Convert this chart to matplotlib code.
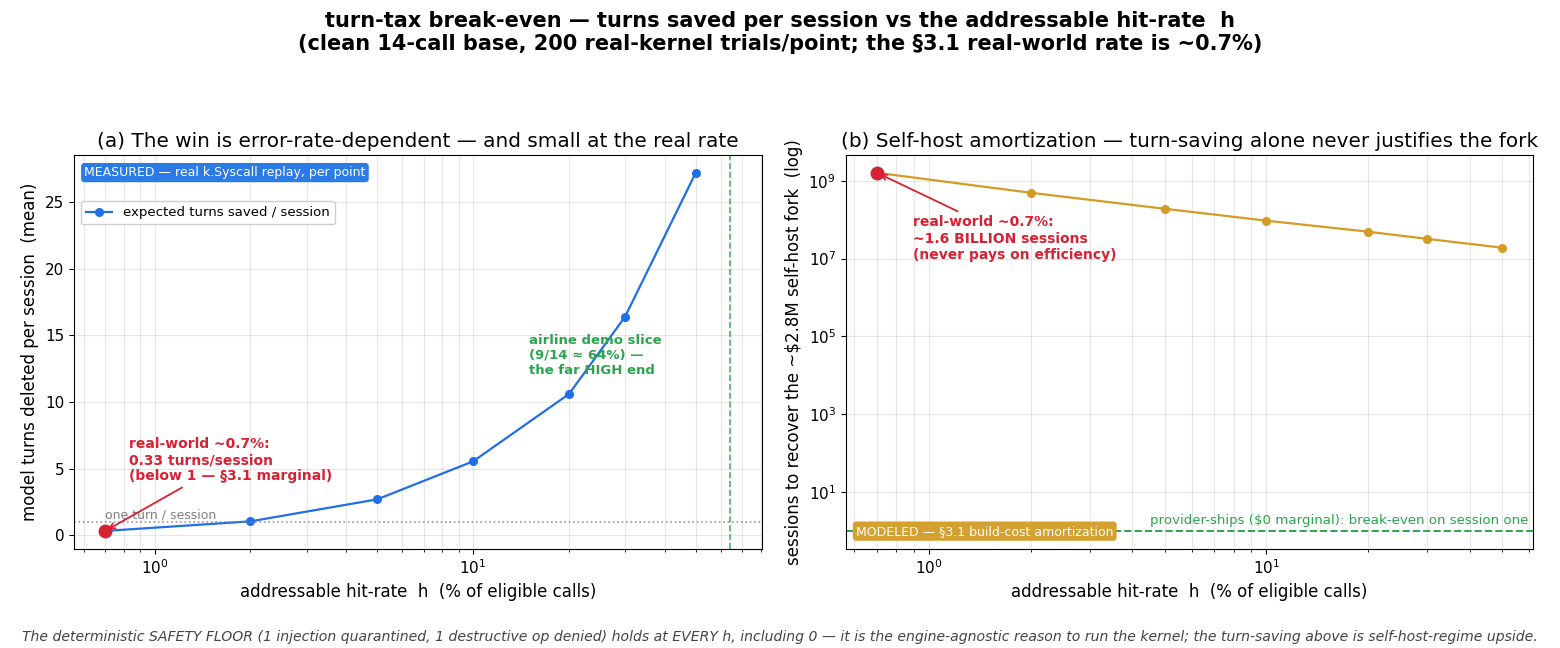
import numpy as np
import matplotlib
matplotlib.use('Agg')
import matplotlib.pyplot as plt

# addressable hit-rate h (% of eligible calls)
H_PCT = [0.7, 2, 5, 10, 20, 30, 50]
# panel (a): measured expected turns saved per session
TURNS_SAVED = [0.33, 1.05, 2.7, 5.55, 10.6, 16.4, 27.2]
# panel (b): sessions needed to recover the self-host fork cost
SESSIONS = [1.6e9, 4.9e8, 1.9e8, 9.4e7, 4.9e7, 3.2e7, 1.9e7]

REAL_H = 0.7
AIRLINE_H = 9 / 14 * 100
ONE_TURN = 1.0
PROVIDER_BREAKEVEN = 1.0

BLUE = '#1f6fe6'
RED = '#d62232'
ORANGE = '#d69a27'
GREEN = '#2ca44e'

plt.rcParams['xtick.labelsize'] = 11
plt.rcParams['ytick.labelsize'] = 11

fig, (ax1, ax2) = plt.subplots(1, 2, figsize=(15.6, 6.48), dpi=100)
fig.subplots_adjust(left=0.0474, right=0.983, bottom=0.153, top=0.761, wspace=0.122)

# ---- (a) measured turns saved ----
ax1.plot(H_PCT, TURNS_SAVED, '-o', color=BLUE, linewidth=1.6, markersize=5.5,
         label='expected turns saved / session')
ax1.plot([H_PCT[0]], [TURNS_SAVED[0]], 'o', color=RED, markersize=9, zorder=5)
ax1.axhline(ONE_TURN, color='gray', linestyle=':', linewidth=1.2, alpha=0.8)
ax1.axvline(AIRLINE_H, color=GREEN, linestyle='--', linewidth=1.2, alpha=0.85)
ax1.set_xscale('log')
ax1.text(0.70, 1.05, 'one turn / session', fontsize=9, color='gray',
         ha='left', va='bottom')
ax1.annotate('real-world ~0.7%:\n0.33 turns/session\n(below 1 \u2014 \u00a73.1 marginal)',
             xy=(H_PCT[0], TURNS_SAVED[0]), xytext=(0.83, 3.9),
             fontsize=10, fontweight='bold', color=RED, ha='left', va='bottom',
             arrowprops=dict(arrowstyle='->', color=RED, lw=1.3))
ax1.text(15.0, 11.9, 'airline demo slice\n(9/14 \u2248 64%) \u2014\nthe far HIGH end',
         fontsize=9.5, fontweight='bold', color=GREEN, ha='left', va='bottom')
ax1.text(0.015, 0.955, 'MEASURED \u2014 real k.Syscall replay, per point',
         transform=ax1.transAxes, fontsize=9, color='white', ha='left', va='center',
         bbox=dict(boxstyle='round,pad=0.25', facecolor='#2b7be6', edgecolor='none'))
ax1.legend(loc='upper left', bbox_to_anchor=(0.0, 0.9), fontsize=9.5, framealpha=0.95)
ax1.set_xlabel('addressable hit-rate  h  (% of eligible calls)', fontsize=12)
ax1.set_ylabel('model turns deleted per session  (mean)', fontsize=12)
ax1.set_title('(a) The win is error-rate-dependent \u2014 and small at the real rate', fontsize=14.4)
ax1.grid(True, which='both', alpha=0.3)

# ---- (b) self-host amortization ----
ax2.plot(H_PCT, SESSIONS, '-o', color=ORANGE, linewidth=1.6, markersize=5.5)
ax2.plot([H_PCT[0]], [SESSIONS[0]], 'o', color=RED, markersize=9, zorder=5)
ax2.axhline(PROVIDER_BREAKEVEN, color=GREEN, linestyle='--', linewidth=1.4)
ax2.set_xscale('log')
ax2.set_yscale('log')
ax2.annotate('real-world ~0.7%:\n~1.6 BILLION sessions\n(never pays on efficiency)',
             xy=(H_PCT[0], SESSIONS[0]), xytext=(0.895, 8.3e6),
             fontsize=10, fontweight='bold', color=RED, ha='left', va='bottom',
             arrowprops=dict(arrowstyle='->', color=RED, lw=1.3))
ax2.text(0.993, 1.25, r'provider-ships (\$0 marginal): break-even on session one',
         transform=ax2.get_yaxis_transform(), fontsize=9.6, color=GREEN,
         ha='right', va='bottom')
ax2.text(0.015, 0.045, 'MODELED \u2014 \u00a73.1 build-cost amortization',
         transform=ax2.transAxes, fontsize=9, color='white', ha='left', va='center',
         bbox=dict(boxstyle='round,pad=0.25', facecolor='#d4a030', edgecolor='none'))
ax2.set_xlabel('addressable hit-rate  h  (% of eligible calls)', fontsize=12)
ax2.set_ylabel(r'sessions to recover the ~\$2.8M self-host fork  (log)', fontsize=12)
ax2.set_title('(b) Self-host amortization \u2014 turn-saving alone never justifies the fork',
              fontsize=14.4)
ax2.grid(True, which='both', alpha=0.3)

fig.suptitle('turn-tax break-even \u2014 turns saved per session vs the addressable hit-rate  h\n'
             '(clean 14-call base, 200 real-kernel trials/point; the \u00a73.1 real-world rate is ~0.7%)',
             fontsize=15, fontweight='bold', y=0.983)
fig.text(0.5, 0.017,
         'The deterministic SAFETY FLOOR (1 injection quarantined, 1 destructive op denied) holds at '
         'EVERY h, including 0 \u2014 it is the engine-agnostic reason to run the kernel; '
         'the turn-saving above is self-host-regime upside.',
         ha='center', va='center', fontsize=10.1, style='italic', color='#444444')

fig.savefig('out.png', dpi=100)
